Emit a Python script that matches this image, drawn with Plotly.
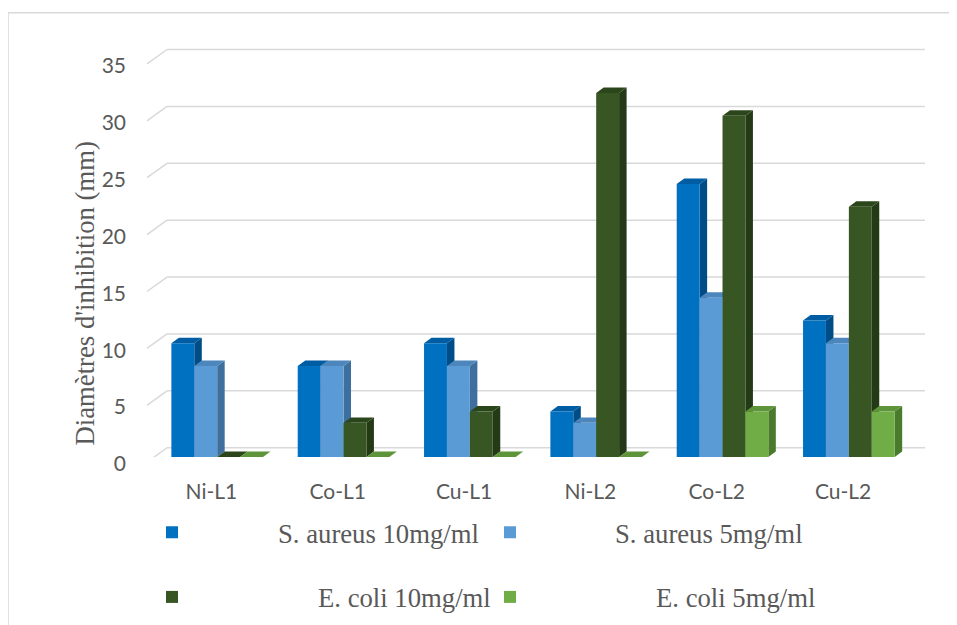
import plotly.graph_objects as go

categories = ["Ni-L1", "Co-L1", "Cu-L1", "Ni-L2", "Co-L2", "Cu-L2"]
series_names = ["S. aureus 10mg/ml", "S. aureus 5mg/ml", "E. coli 10mg/ml", "E. coli 5mg/ml"]
sa_10 = [10, 8, 10, 4, 24, 12]
sa_5 = [8, 8, 8, 3, 14, 10]
ec_10 = [0, 3, 4, 32, 30, 22]
ec_5 = [0, 0, 0, 0, 4, 4]
y_ticks = [0, 5, 10, 15, 20, 25, 30, 35]

series = [sa_10, sa_5, ec_10, ec_5]
front_colors = ["#0070C0", "#5B9BD5", "#375623", "#70AD47"]
side_colors = ["#004C86", "#3F6F9C", "#243916", "#4A7A2C"]
top_colors = ["#005DA3", "#4C86BC", "#2C461B", "#5E953A"]

# page geometry (the page body has an 8px margin)
W, H = 957, 625
page_dx, page_dy = 8, 8
p_left, p_top, p_right, p_bottom = 147, 36.4, 905, 459.3
plot_w = p_right - p_left
plot_h = p_bottom - p_top
y_max = 37
px_y = plot_h / y_max          # px per mm
x_lo, x_hi = -0.51, 5.49
px_x = plot_w / (x_hi - x_lo)  # px per category

bar_w = 0.1813
group_off = -0.317
dx = 7.5 / px_x   # 3d depth of the bars
dy = 5.5 / px_y


def px_to_paper_x(px):
    return (px - p_left) / plot_w


def px_to_paper_y(py):
    return (p_bottom - py) / plot_h


xs = list(range(len(categories)))

fig = go.Figure()
shapes = []

# outer frame
shapes.append(dict(type="path", xref="paper", yref="paper", layer="below",
                   path="M {x0},{y0} L {x0},{y1} L {x1},{y1}".format(
                       x0=px_to_paper_x(8), x1=px_to_paper_x(W + 20),
                       y0=px_to_paper_y(H + 20), y1=px_to_paper_y(13)),
                   line=dict(color="#d9d9d9", width=1.5)))

# gridlines on the back wall with the slanted floor edge
g_front = 5.2 / px_y
g_back = 9.3 / px_y
g_dx = 20 / plot_w
for v in y_ticks:
    shapes.append(dict(type="line", xref="paper", yref="y", layer="below",
                       x0=0, y0=v - g_front, x1=g_dx, y1=v + g_back,
                       line=dict(color="#d9d9d9", width=1.5)))
    shapes.append(dict(type="line", xref="paper", yref="y", layer="below",
                       x0=g_dx, y0=v + g_back, x1=1 + g_dx, y1=v + g_back,
                       line=dict(color="#d9d9d9", width=1.5)))

legend_names = ["legend", "legend2", "legend3", "legend4"]
for i, (name, vals) in enumerate(zip(series_names, series)):
    off = group_off + i * bar_w
    fig.add_trace(go.Bar(
        x=xs, y=vals, name=name, width=bar_w, offset=off,
        marker=dict(color=front_colors[i], line=dict(width=0)),
        legend=legend_names[i], showlegend=True,
    ))
    # side and top faces of every bar
    for k, v in zip(xs, vals):
        xl = k + off
        xr = xl + bar_w
        if v > 0:
            shapes.append(dict(type="path", xref="x", yref="y", layer="below",
                               path=f"M {xr},0 L {xr + dx},{dy} L {xr + dx},{v + dy} L {xr},{v} Z",
                               fillcolor=side_colors[i], line=dict(width=0)))
        shapes.append(dict(type="path", xref="x", yref="y", layer="below",
                           path=f"M {xl},{v} L {xl + dx},{v + dy} L {xr + dx},{v + dy} L {xr},{v} Z",
                           fillcolor=top_colors[i], line=dict(width=0)))

legend_font = dict(family="Liberation Serif", size=26.7, color="#595959")
# (symbol centre x, text start x, row centre y) of each legend entry, page px
legend_pos = [(172, 278, 535), (510, 615, 535), (172, 318, 600), (510, 656, 600)]
legends = {}
for name, (sx, tx, ly) in zip(legend_names, legend_pos):
    iw = 2 * (tx - sx) - 10
    legends[name] = dict(orientation="h", x=px_to_paper_x(sx - (iw + 10) / 2), xanchor="left",
                         y=px_to_paper_y(ly), yanchor="middle", itemwidth=iw, visible=True,
                         font=legend_font, bgcolor="rgba(0,0,0,0)")

fig.update_layout(
    width=W, height=H,
    showlegend=True,
    margin=dict(l=p_left - page_dx, r=W - (p_right - page_dx), t=p_top - page_dy,
                b=H - (p_bottom - page_dy), pad=0),
    paper_bgcolor="white",
    plot_bgcolor="rgba(0,0,0,0)",
    barmode="overlay",
    shapes=shapes,
    font=dict(family="Lato", color="#595959"),
    xaxis=dict(range=[x_lo, x_hi], tickvals=xs, ticktext=categories,
               showgrid=False, zeroline=False, showline=False, ticks="",
               tickfont=dict(family="Lato", size=21, color="#595959"),
               ticklabelstandoff=20, fixedrange=True),
    yaxis=dict(range=[0, y_max], tickvals=y_ticks, showgrid=False, zeroline=False,
               showline=False, ticks="", automargin=False,
               tickfont=dict(family="Lato", size=21, color="#595959"),
               ticklabelstandoff=20, ticklabelshift=7),
    annotations=[dict(text="Diamètres d'inhibition (mm)", textangle=-90,
                      xref="paper", yref="paper", x=px_to_paper_x(85), y=px_to_paper_y(295),
                      xanchor="center", yanchor="middle", showarrow=False,
                      font=dict(family="Liberation Serif", size=26.7, color="#595959"))],
    **legends,
)

fig.write_html("out.html")
